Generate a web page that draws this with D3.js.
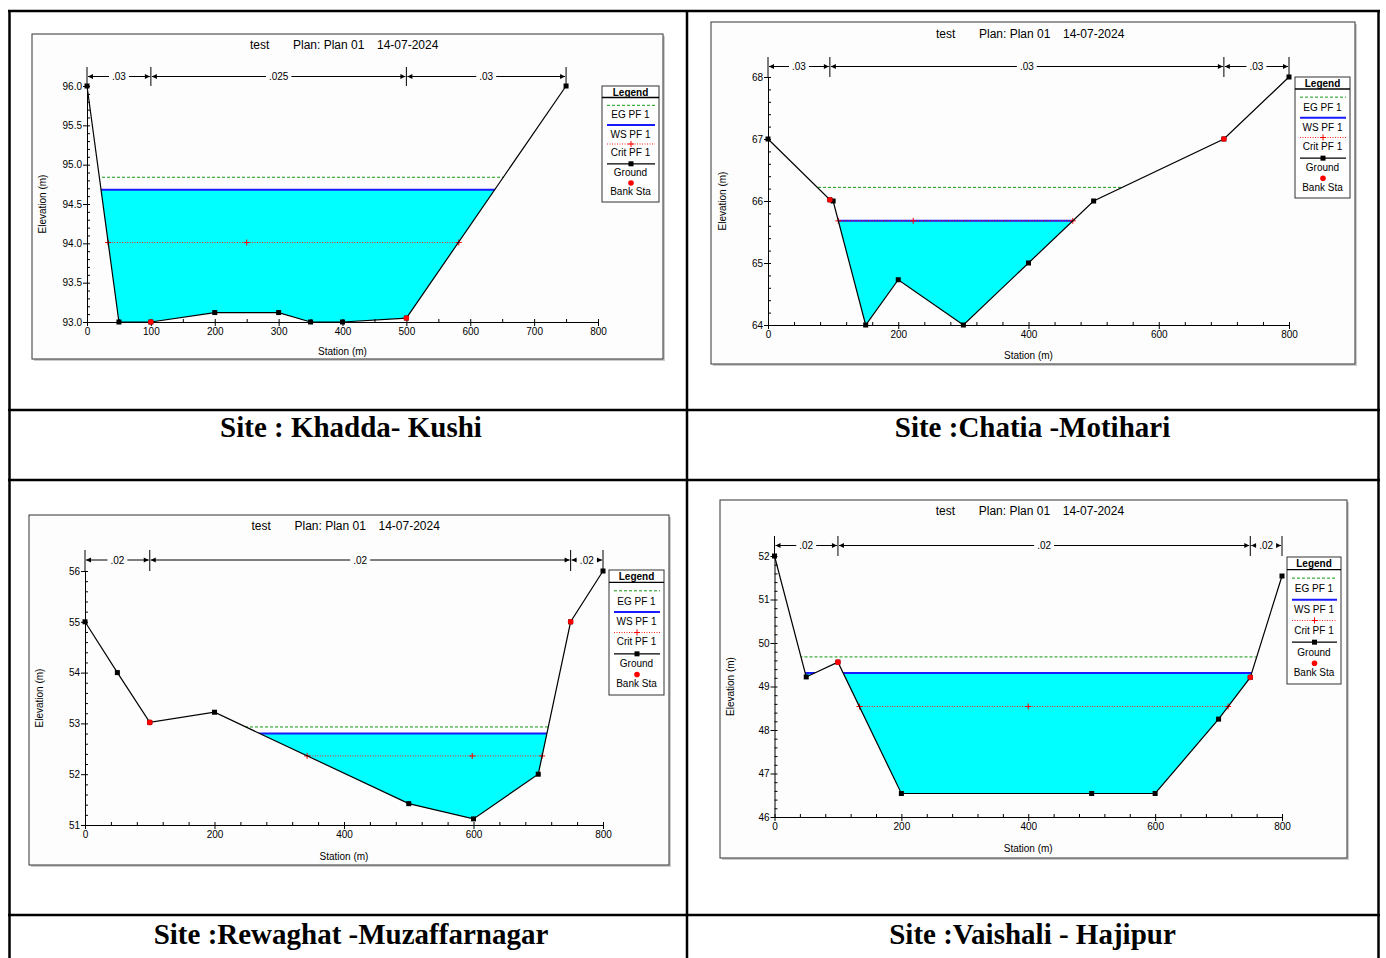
<!DOCTYPE html>
<html>
<head>
<meta charset="utf-8">
<script src="https://cdn.jsdelivr.net/npm/d3@7"></script>
<style>
  body { margin: 0; background: #fff; }
  svg text { font-family: "Liberation Sans", Arial, sans-serif; fill: #000; }
  .site { font-family: "Liberation Serif", "Times New Roman", serif; font-weight: bold; font-size: 29px; }
</style>
</head>
<body>
<svg id="page" width="1386" height="958"></svg>
<script>
// ---- data ----
const siteNames = ['Site : Khadda- Kushi', 'Site :Chatia -Motihari', 'Site :Rewaghat -Muzaffarnagar', 'Site :Vaishali - Hajipur'];
const titleParts = ['test', 'Plan: Plan 01', '14-07-2024'];
const legendItems = ['EG PF 1', 'WS PF 1', 'Crit PF 1', 'Ground', 'Bank Sta'];

// Khadda - Kushi
const khaddaStation = [0, 50, 100, 200, 300, 350, 400, 500, 750];
const khaddaElev = [96.0, 93.0, 93.0, 93.12, 93.12, 93.0, 93.0, 93.05, 96.0];
const khaddaBank = [100, 500];
const khaddaNBreak = [0, 100, 500, 750];
const khaddaN = ['.03', '.025', '.03'];
const khaddaLevels = [94.84, 94.68, 94.01];   // EG, WS, Crit
const khaddaCritMarks = [33, 250, 582];
const khaddaYTicks = [93.0, 93.5, 94.0, 94.5, 95.0, 95.5, 96.0];
const khaddaXTicks = [0, 100, 200, 300, 400, 500, 600, 700, 800];

// Chatia - Motihari
const chatiaStation = [0, 95, 100, 150, 200, 300, 400, 500, 700, 800];
const chatiaElev = [67.0, 66.02, 66.0, 64.0, 64.73, 64.0, 65.0, 66.0, 67.0, 68.0];
const chatiaBank = [95, 700];
const chatiaNBreak = [0, 95, 700, 800];
const chatiaN = ['.03', '.03', '.03'];
const chatiaLevels = [66.22, 65.68, 65.68];
const chatiaCritMarks = [108, 223, 468];
const chatiaYTicks = [64, 65, 66, 67, 68];
const chatiaXTicks = [0, 200, 400, 600, 800];

// Rewaghat - Muzaffarnagar
const rewaStation = [0, 50, 100, 200, 500, 600, 700, 750, 800];
const rewaElev = [55.0, 54.0, 53.02, 53.22, 51.42, 51.12, 52.0, 55.0, 56.0];
const rewaBank = [100, 750];
const rewaNBreak = [0, 100, 750, 800];
const rewaN = ['.02', '.02', '.02'];
const rewaLevels = [52.93, 52.80, 52.36];
const rewaCritMarks = [343, 598, 706];
const rewaYTicks = [51, 52, 53, 54, 55, 56];
const rewaXTicks = [0, 200, 400, 600, 800];

// Vaishali - Hajipur
const vaishStation = [0, 50, 100, 200, 500, 600, 700, 750, 800];
const vaishElev = [52.0, 49.22, 49.56, 46.54, 46.54, 46.54, 48.25, 49.21, 51.54];
const vaishBank = [100, 750];
const vaishNBreak = [0, 100, 750, 800];
const vaishN = ['.02', '.02', '.02'];
const vaishLevels = [49.68, 49.31, 48.54];
const vaishCritMarks = [134, 400, 715];
const vaishYTicks = [46, 47, 48, 49, 50, 51, 52];
const vaishXTicks = [0, 200, 400, 600, 800];

// ---- build chart configs ----
const charts = [
  { st: khaddaStation, el: khaddaElev, bank: khaddaBank, nb: khaddaNBreak, n: khaddaN, lv: khaddaLevels, cm: khaddaCritMarks, yt: khaddaYTicks, xt: khaddaXTicks, yMinor: 0.1, xMinor: 50, fmt: d3.format('.1f') },
  { st: chatiaStation, el: chatiaElev, bank: chatiaBank, nb: chatiaNBreak, n: chatiaN, lv: chatiaLevels, cm: chatiaCritMarks, yt: chatiaYTicks, xt: chatiaXTicks, yMinor: 0.2, xMinor: 40, fmt: d3.format('d') },
  { st: rewaStation, el: rewaElev, bank: rewaBank, nb: rewaNBreak, n: rewaN, lv: rewaLevels, cm: rewaCritMarks, yt: rewaYTicks, xt: rewaXTicks, yMinor: 0.2, xMinor: 40, fmt: d3.format('d') },
  { st: vaishStation, el: vaishElev, bank: vaishBank, nb: vaishNBreak, n: vaishN, lv: vaishLevels, cm: vaishCritMarks, yt: vaishYTicks, xt: vaishXTicks, yMinor: 0.2, xMinor: 40, fmt: d3.format('d') }
];

// pixel layout of each panel
const layouts = [
  { frame: [32, 34, 663, 359], plot: [87, 598, 86, 322], legend: [602, 86, 57, 116], nY: 76.5, nTop: 67, titleY: 45, xLabY: 351, yLabX: 42 },
  { frame: [711, 22, 1355, 364], plot: [768, 1289, 77, 325], legend: [1295, 77, 55, 121], nY: 66.5, nTop: 57, titleY: 33.5, xLabY: 355, yLabX: 722 },
  { frame: [29, 515, 669, 865], plot: [85, 603, 571, 825], legend: [609, 570, 55, 125], nY: 560, nTop: 550, titleY: 525.5, xLabY: 856, yLabX: 39.5 },
  { frame: [720, 500, 1347, 858], plot: [774.5, 1282, 556, 817], legend: [1287, 557, 54, 127], nY: 545.5, nTop: 536, titleY: 510.5, xLabY: 848.5, yLabX: 730 }
];

const svg = d3.select('#page');

// ---- table grid ----
const grid = svg.append('g').attr('stroke', '#000').attr('stroke-width', 2.5);
grid.append('line').attr('x1', 8).attr('x2', 1380).attr('y1', 11).attr('y2', 11);
[9.5, 687, 1378.5].forEach(xp => grid.append('line').attr('x1', xp).attr('x2', xp).attr('y1', 10).attr('y2', 958));
[410, 480, 915].forEach(yp => grid.append('line').attr('x1', 8).attr('x2', 1380).attr('y1', yp).attr('y2', yp));

svg.append('text').attr('class', 'site').attr('x', 351).attr('y', 437).attr('text-anchor', 'middle').text(siteNames[0]);
svg.append('text').attr('class', 'site').attr('x', 1032.5).attr('y', 437).attr('text-anchor', 'middle').text(siteNames[1]);
svg.append('text').attr('class', 'site').attr('x', 351).attr('y', 944).attr('text-anchor', 'middle').text(siteNames[2]);
svg.append('text').attr('class', 'site').attr('x', 1032.5).attr('y', 944).attr('text-anchor', 'middle').text(siteNames[3]);

charts.forEach((c, i) => drawChart(c, layouts[i], i));

function drawChart(c, lay, idx) {
  const [fx0, fy0, fx1, fy1] = lay.frame;
  const [px0, px1, py0, py1] = lay.plot;
  const g = svg.append('g');

  // frame with soft shadow
  g.append('rect').attr('x', fx0 + 2).attr('y', fy0 + 2).attr('width', fx1 - fx0).attr('height', fy1 - fy0).attr('fill', '#ccc');
  g.append('rect').attr('x', fx0).attr('y', fy0).attr('width', fx1 - fx0).attr('height', fy1 - fy0)
    .attr('fill', '#fdfdfd').attr('stroke', '#333').attr('stroke-width', 1);

  const x = d3.scaleLinear().domain([0, 800]).range([px0, px1]);
  const yd = d3.extent(c.yt);
  const y = d3.scaleLinear().domain(yd).range([py1, py0]);

  // title
  const cx = (px0 + px1) / 2;
  [-92.5, -49.5, 34.5].forEach((off, k) => {
    g.append('text').attr('x', cx + off).attr('y', lay.titleY + 4.3).attr('font-size', 12).text(titleParts[k]);
  });

  // clip: region above the ground line
  const pts = c.st.map((s, k) => [x(s), y(c.el[k])]);
  const last = c.st[c.st.length - 1];
  const poly = pts.concat([[x(last), fy0], [x(c.st[0]), fy0]]);
  const clipId = 'above' + idx;
  g.append('clipPath').attr('id', clipId).append('polygon').attr('points', poly.map(p => p.join(',')).join(' '));

  const [eg, ws, crit] = c.lv;
  const wet = g.append('g').attr('clip-path', `url(#${clipId})`);
  wet.append('rect').attr('x', px0).attr('width', px1 - px0).attr('y', y(ws)).attr('height', py1 - y(ws)).attr('fill', '#00ffff');
  wet.append('line').attr('x1', px0).attr('x2', px1).attr('y1', y(eg)).attr('y2', y(eg))
    .attr('stroke', '#119911').attr('stroke-width', 1).attr('stroke-dasharray', '3,2');
  wet.append('line').attr('x1', px0).attr('x2', px1).attr('y1', y(ws)).attr('y2', y(ws))
    .attr('stroke', '#1a1aff').attr('stroke-width', 2);
  wet.append('line').attr('x1', px0).attr('x2', px1).attr('y1', y(crit)).attr('y2', y(crit))
    .attr('stroke', '#ff2020').attr('stroke-width', 1).attr('stroke-dasharray', '1,1.5');
  c.cm.forEach(s => {
    g.append('path').attr('d', `M${x(s) - 3},${y(crit)}h6M${x(s)},${y(crit) - 3}v6`).attr('stroke', '#ff0000').attr('stroke-width', 1);
  });

  // axes
  const xAxis = g.append('g').attr('transform', `translate(0,${py1})`)
    .call(d3.axisBottom(x).tickValues(c.xt).tickSize(4).tickPadding(2).tickSizeOuter(0));
  g.append('g').attr('transform', `translate(0,${py1})`)
    .call(d3.axisBottom(x).tickValues(d3.range(0, 800.1, c.xMinor)).tickSize(-3).tickFormat(''))
    .call(a => a.select('.domain').remove());
  const yAxis = g.append('g').attr('transform', `translate(${px0},0)`)
    .call(d3.axisLeft(y).tickValues(c.yt).tickSize(4).tickPadding(1).tickSizeOuter(0).tickFormat(c.fmt));
  g.append('g').attr('transform', `translate(${px0},0)`)
    .call(d3.axisLeft(y).tickValues(d3.range(yd[0], yd[1] + 1e-6, c.yMinor)).tickSize(-3).tickFormat(''))
    .call(a => a.select('.domain').remove());
  g.selectAll('.tick line, .domain').attr('stroke', '#000');
  [xAxis, yAxis].forEach(a => a.selectAll('text').attr('font-size', 10).attr('font-family', '"Liberation Sans", Arial, sans-serif').attr('fill', '#000'));

  g.append('text').attr('x', cx).attr('y', lay.xLabY + 3.5).attr('text-anchor', 'middle').attr('font-size', 10).text('Station (m)');
  g.append('text').attr('transform', `translate(${lay.yLabX + 3.5},${(py0 + py1) / 2}) rotate(-90)`)
    .attr('text-anchor', 'middle').attr('font-size', 10).text('Elevation (m)');

  // Manning's n markers
  c.nb.forEach(s => {
    g.append('line').attr('x1', x(s)).attr('x2', x(s)).attr('y1', lay.nTop).attr('y2', py0).attr('stroke', '#000').attr('stroke-width', 1);
  });
  c.n.forEach((lab, k) => {
    const a = x(c.nb[k]), b = x(c.nb[k + 1]);
    const m = (a + b) / 2;
    g.append('line').attr('x1', a + 1).attr('x2', b - 1).attr('y1', lay.nY).attr('y2', lay.nY).attr('stroke', '#000').attr('stroke-width', 1);
    g.append('path').attr('d', `M${a + 1},${lay.nY}l5,-2.5v5Z M${b - 1},${lay.nY}l-5,-2.5v5Z`).attr('fill', '#000');
    const t = g.append('text').attr('x', m).attr('y', lay.nY + 3.5).attr('text-anchor', 'middle').attr('font-size', 10).text(lab);
    const w = t.node().getComputedTextLength();
    g.insert('rect', () => t.node()).attr('x', m - w / 2 - 3).attr('y', lay.nY - 4).attr('width', w + 6).attr('height', 8).attr('fill', '#fdfdfd');
  });

  // ground line, points, bank stations
  g.append('path').attr('d', d3.line()(pts)).attr('fill', 'none').attr('stroke', '#000').attr('stroke-width', 1.2);
  g.selectAll(null).data(pts).enter().append('rect')
    .attr('x', p => p[0] - 2.5).attr('y', p => p[1] - 2.5).attr('width', 5).attr('height', 5).attr('fill', '#000');
  c.bank.forEach(s => {
    const k = c.st.indexOf(s);
    g.append('circle').attr('cx', x(s)).attr('cy', y(c.el[k])).attr('r', 2.8).attr('fill', '#ff0000');
  });

  // legend
  const [lx, ly, lw, lh] = lay.legend;
  const kk = lh / 116;
  const L = g.append('g');
  L.append('rect').attr('x', lx).attr('y', ly).attr('width', lw).attr('height', lh).attr('fill', '#fff').attr('stroke', '#333').attr('stroke-width', 1);
  L.append('text').attr('x', lx + lw / 2).attr('y', ly + 6 * kk + 3.5).attr('text-anchor', 'middle').attr('font-size', 10).attr('font-weight', 'bold').text('Legend');
  L.append('line').attr('x1', lx).attr('x2', lx + lw).attr('y1', ly + 11.5 * kk).attr('y2', ly + 11.5 * kk).attr('stroke', '#000').attr('stroke-width', 1.3);
  const lineY = [19.3, 39, 58, 77.8, 97].map(v => ly + v * kk);
  const textY = [28.8, 48, 66.8, 86.9, 105.5].map(v => ly + v * kk);
  const a0 = lx + 5, a1 = lx + lw - 4, am = (a0 + a1) / 2;
  L.append('line').attr('x1', a0).attr('x2', a1).attr('y1', lineY[0]).attr('y2', lineY[0]).attr('stroke', '#119911').attr('stroke-dasharray', '3,2');
  L.append('line').attr('x1', a0).attr('x2', a1).attr('y1', lineY[1]).attr('y2', lineY[1]).attr('stroke', '#1a1aff').attr('stroke-width', 2);
  L.append('line').attr('x1', a0).attr('x2', a1).attr('y1', lineY[2]).attr('y2', lineY[2]).attr('stroke', '#ff2020').attr('stroke-dasharray', '1,1.5');
  L.append('path').attr('d', `M${am - 3},${lineY[2]}h6M${am},${lineY[2] - 3}v6`).attr('stroke', '#ff0000');
  L.append('line').attr('x1', a0).attr('x2', a1).attr('y1', lineY[3]).attr('y2', lineY[3]).attr('stroke', '#000').attr('stroke-width', 1.2);
  L.append('rect').attr('x', am - 2.5).attr('y', lineY[3] - 2.5).attr('width', 5).attr('height', 5).attr('fill', '#000');
  L.append('circle').attr('cx', am).attr('cy', lineY[4]).attr('r', 2.8).attr('fill', '#ff0000');
  legendItems.forEach((t, k) => {
    L.append('text').attr('x', lx + lw / 2).attr('y', textY[k] + 3.5).attr('text-anchor', 'middle').attr('font-size', 10).text(t);
  });
}
</script>
</body>
</html>
